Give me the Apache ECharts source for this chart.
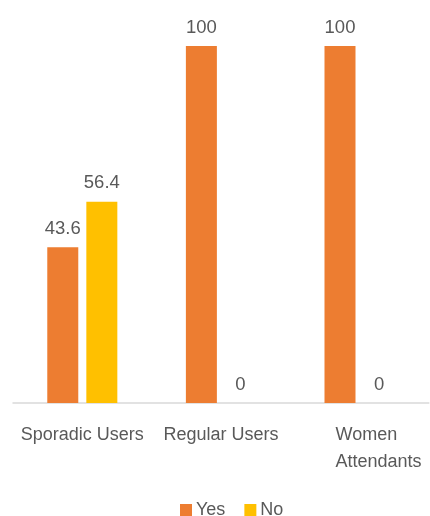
<!DOCTYPE html>
<html><head><meta charset="utf-8">
<script src="https://cdn.jsdelivr.net/npm/echarts@6/dist/echarts.min.js"></script>
<style>html,body{margin:0;padding:0;background:#fff}#c{width:430px;height:516px}</style>
</head><body><div id="c"></div>
<script>
var categories = ['Sporadic Users', 'Regular Users', 'Women Attendants'];
var yesValues = [43.6, 100, 100];
var noValues = [56.4, 0, 0];
var seriesNames = ['Yes', 'No'];

var FONT = 'Liberation Sans';
var TXT = '#595959';
var chart = echarts.init(document.getElementById('c'));
var labelCfg = {show: true, position: 'top', distance: 9, color: TXT, fontFamily: FONT, fontSize: 18.5};
chart.setOption({
  animation: false,
  grid: {left: 13, right: -2, top: 46, bottom: 113, containLabel: false},
  legend: {
    data: seriesNames, top: 496, left: 175, itemWidth: 12, itemHeight: 12, itemGap: 19,
    icon: 'rect', textStyle: {color: TXT, fontFamily: FONT, fontSize: 18, padding: [0, 0, 0, -1]}
  },
  xAxis: {
    type: 'category', data: categories,
    axisLine: {lineStyle: {color: '#d9d9d9', width: 1.5}},
    axisTick: {show: false},
    axisLabel: {
      interval: 0, margin: 19, color: TXT, fontFamily: FONT, fontSize: 18, lineHeight: 27,
      formatter: function (v) {
        if (v === 'Women Attendants') return '{a|Women}\n{a|Attendants}';
        return v;
      },
      rich: {a: {width: 92, align: 'left', fontFamily: FONT, fontSize: 18, lineHeight: 27, color: TXT, padding: [0, 0, 0, 44]}}
    }
  },
  yAxis: {type: 'value', min: 0, max: 100, show: false, splitLine: {show: false}},
  series: [
    {name: 'Yes', type: 'bar', data: yesValues, barWidth: 31, barGap: '26%', itemStyle: {color: '#ED7D31'}, label: labelCfg},
    {name: 'No', type: 'bar', data: noValues, barWidth: 31, itemStyle: {color: '#FFC000'}, label: labelCfg}
  ]
});
</script></body></html>
